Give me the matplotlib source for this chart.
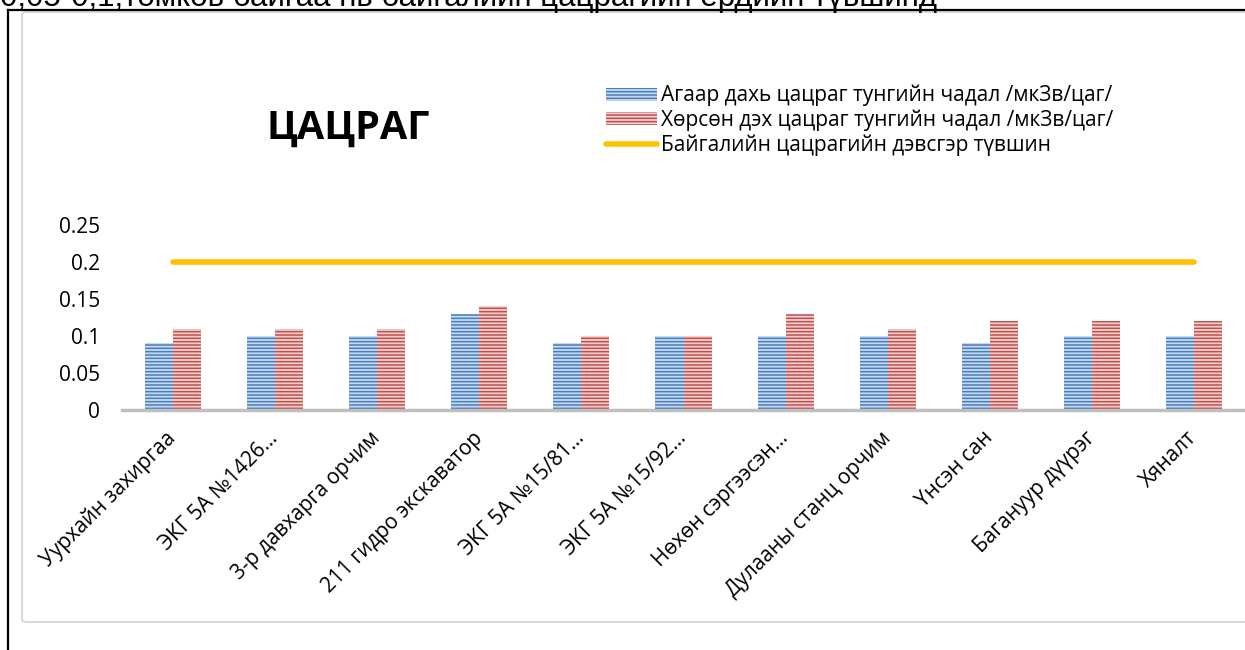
import matplotlib
matplotlib.use("Agg")
import matplotlib.pyplot as plt
from matplotlib.patches import FancyBboxPatch
from matplotlib.lines import Line2D
import numpy as np

plt.rcParams['font.family'] = ['Open Sans', 'DejaVu Sans']
plt.rcParams['hatch.linewidth'] = 1.1

# -------------------------------------------------------
# Data
# -------------------------------------------------------

locations = [
    "Уурхайн захиргаа",
    "ЭКГ 5А №1426…",
    "3-р давхарга орчим",
    "211 гидро экскаватор",
    "ЭКГ 5А №15/81…",
    "ЭКГ 5А №15/92…",
    "Нөхөн сэргээсэн…",
    "Дулааны станц орчим",
    "Үнсэн сан",
    "Багануур дүүрэг",
    "Хяналт",
]

air_dose = [0.09, 0.10, 0.10, 0.13, 0.09, 0.10, 0.10, 0.10, 0.09, 0.10, 0.10]
soil_dose = [0.11, 0.11, 0.11, 0.14, 0.10, 0.10, 0.13, 0.11, 0.12, 0.12, 0.12]
background_level = [0.2] * len(locations)

series_names = [
    "Агаар дахь цацраг тунгийн чадал /мкЗв/цаг/",
    "Хөрсөн дэх цацраг тунгийн чадал /мкЗв/цаг/",
    "Байгалийн цацрагийн дэвсгэр түвшин",
]

y_ticks = [0, 0.05, 0.1, 0.15, 0.2, 0.25]
y_tick_labels = ["0", "0.05", "0.1", "0.15", "0.2", "0.25"]

# -------------------------------------------------------
# Figure
# -------------------------------------------------------

W, H = 1245, 650
fig = plt.figure(figsize=(W / 100, H / 100), dpi=100)

# page text cut at the top
fig.text(0, 1 - 6 / H, "0,05-0,1,төмков байгаа нь байгалийн цацрагийн ердийн түвшинд",
         family="Liberation Sans", fontsize=22.5, va="baseline", ha="left")

# document frame
fig.add_artist(Line2D([8 / W, 8 / W], [0, 1 - 10 / H], color="black", lw=1.6))
fig.add_artist(Line2D([8 / W, 1], [1 - 10 / H, 1 - 10 / H], color="black", lw=1.6))

# chart area border
fig.add_artist(FancyBboxPatch((22 / W, 1 - 622 / H), 1.2, (622 - 12) / H,
                              boxstyle="round,pad=0,rounding_size=0.004",
                              fc="none", ec="#d9d9d9", lw=1.5))

ax = fig.add_axes([122 / W, 240 / H, (W - 122) / W, 185 / H])

x = np.arange(len(locations))
width = 0.275

bars_air = ax.bar(x - width / 2, air_dose, width, color="#c6d9f1", edgecolor="#4a7ebb",
                  hatch="-----", linewidth=0)
bars_soil = ax.bar(x + width / 2, soil_dose, width, color="#f2d0cf", edgecolor="#c0504d",
                   hatch="-----", linewidth=0)
line_bg, = ax.plot(x, background_level, color="#ffc000", lw=4, solid_capstyle="round")

ax.set_xlim(-0.5, len(locations) - 0.5)
ax.set_ylim(0, 0.25)
ax.set_yticks(y_ticks)
ax.set_yticklabels(y_tick_labels, fontsize=15)
ax.tick_params(axis="y", length=0, pad=16)
ax.set_xticks(x)
ax.set_xticklabels(locations, fontsize=15, rotation=45, ha="right",
                   va="center", rotation_mode="anchor")
ax.tick_params(axis="x", length=0, pad=18)

for side in ["top", "right", "left"]:
    ax.spines[side].set_visible(False)
ax.spines["bottom"].set_color("#bfbfbf")
ax.spines["bottom"].set_linewidth(2.5)
ax.patch.set_alpha(0)

fig.text(348 / W, 1 - 128 / H, "ЦАЦРАГ", fontsize=28.5, fontweight="bold",
         ha="center", va="center")

fig.legend([bars_air, bars_soil, line_bg], series_names,
           loc="upper left", bbox_to_anchor=(606 / W, 1 - 85 / H),
           frameon=False, fontsize=15, handlelength=2.45, handleheight=0.58,
           labelspacing=0.15, handletextpad=0.2, borderaxespad=0, borderpad=0)

fig.savefig("out.png", dpi=100)
